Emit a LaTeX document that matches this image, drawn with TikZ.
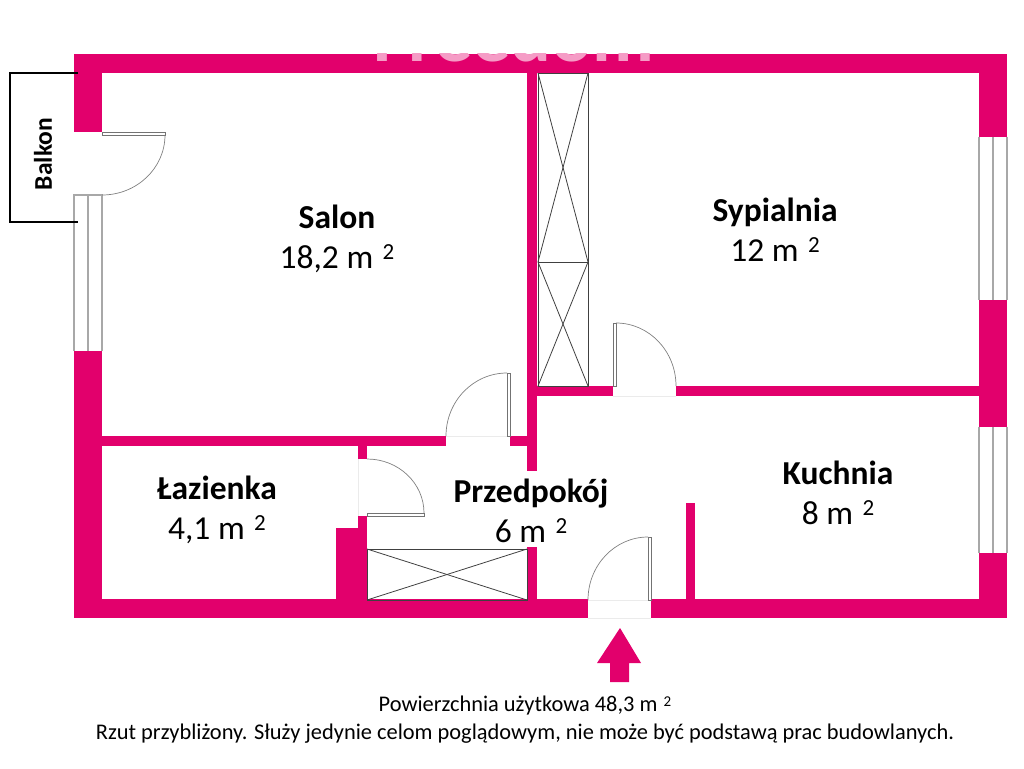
\documentclass[tikz,border=0pt]{standalone}
\usepackage{fontspec}
\setmainfont{Carlito}
\definecolor{wallpink}{HTML}{E2006C}
\definecolor{markpink}{HTML}{F59CC6}
\definecolor{framegray}{HTML}{A8A8A8}
\newcommand{\sqm}[1]{#1 m\,\raisebox{0.6ex}{\fontsize{23}{23}\selectfont\,2}}

\begin{document}
\begin{tikzpicture}
            [x=1pt,y=-1pt,
            wall/.style={fill=wallpink},
            frameline/.style={draw=framegray,line width=1.2pt},
            sill/.style={draw=black!8,line width=0.6pt},
            leaf/.style={draw=black!55,line width=0.6pt,fill=white},
            swing/.style={draw=black!50,line width=0.7pt},
            closet/.style={draw=black!75,line width=0.8pt},
            roomlabel/.style={align=center,font=\fontsize{33.5}{40}\selectfont,inner sep=0},
            note/.style={font=\fontsize{22.4}{24}\selectfont,inner sep=0}]

            \useasboundingbox (0,0) rectangle (1024,768);

            % outer walls
            \fill[wall] (74,54) rectangle (1007,73);
            \fill[wall] (74,599) rectangle (588,618);
            \fill[wall] (651,599) rectangle (1007,618);
            \fill[wall] (74,54) rectangle (102,132);
            \fill[wall] (74,351) rectangle (102,618);
            \fill[wall] (979,54) rectangle (1007,137);
            \fill[wall] (979,300) rectangle (1007,427);
            \fill[wall] (979,553) rectangle (1007,618);

            % inner walls
            \fill[wall] (527,73) rectangle (537,471);
            \fill[wall] (527,547) rectangle (537,600);
            \fill[wall] (102,436) rectangle (446,446);
            \fill[wall] (510,436) rectangle (527,446);
            \fill[wall] (537,386) rectangle (613,396);
            \fill[wall] (676,386) rectangle (979,396);
            \fill[wall] (358,446) rectangle (367,459);
            \fill[wall] (358,516) rectangle (367,528);
            \fill[wall] (336,528) rectangle (367,600);
            \fill[wall] (686,503) rectangle (695,600);

            % watermark
            \begin{scope}
              \clip (340,54) rectangle (680,62);
              \node[inner sep=0,text=markpink,font=\bfseries\fontsize{76}{76}\selectfont] (mark) at (514,35) {Freedom};
            \end{scope}

            % windows
            \draw[frameline] (74,351) -- (74,195) -- (102,195) -- (102,351);
            \draw[frameline] (88,195) -- (88,351);
            \draw[frameline] (979,137) -- (979,300);
            \draw[frameline] (993,137) -- (993,300);
            \draw[frameline] (1007,137) -- (1007,300);
            \draw[frameline] (979,427) -- (979,553);
            \draw[frameline] (993,427) -- (993,553);
            \draw[frameline] (1007,427) -- (1007,553);

            % door openings
            \draw[sill] (588,600) -- (651,600);
            \draw[sill] (588,618) -- (651,618);
            \draw[sill] (613,396) -- (676,396);
            \draw[sill] (446,436) -- (510,436);
            \draw[sill] (358,459) -- (358,516);

            % doors
            \draw[leaf] (102,132) rectangle (165,135);
            \draw[swing] (165,135) arc[start angle=0,end angle=-90,x radius=63,y radius=-60];
            \draw[leaf] (507,373) rectangle (510,436);
            \draw[swing] (507,373) arc[start angle=90,end angle=180,x radius=61,y radius=-63];
            \draw[leaf] (367,513) rectangle (424,516);
            \draw[swing] (424,513) arc[start angle=0,end angle=90,x radius=57,y radius=-54];
            \draw[leaf] (613,323) rectangle (616,386);
            \draw[swing] (616,323) arc[start angle=90,end angle=0,x radius=60,y radius=-63];
            \draw[leaf] (648,537) rectangle (651,600);
            \draw[swing] (648,537) arc[start angle=90,end angle=180,x radius=60,y radius=-63];

            % closets
            \draw[closet] (538,73) rectangle (588,386);
            \draw[closet] (538,262) -- (588,262);
            \draw[closet] (538,73) -- (588,262);
            \draw[closet] (588,73) -- (538,262);
            \draw[closet] (538,262) -- (588,386);
            \draw[closet] (588,262) -- (538,386);
            \draw[closet] (367,549) rectangle (527,600);
            \draw[closet] (367,549) -- (527,600);
            \draw[closet] (527,549) -- (367,600);

            % balcony
            \coordinate (b1) at (78,73);
            \coordinate (b2) at (10,73);
            \coordinate (b3) at (10,222);
            \coordinate (b4) at (78,222);
            \draw[line width=1.8pt] (b1) -- (b2) -- (b3) -- (b4);
            \node[inner sep=0,rotate=90,font=\bfseries\fontsize{25.5}{25.5}\selectfont] (balkon) at (43,154) {Balkon};

            % entrance
            \fill[wall] (620,628) -- (641,663) -- (629,663) -- (629,682) -- (610,682) -- (610,663) -- (597,663) -- cycle;

            % rooms
            \node[roomlabel] (salon) at (337,239) {\textbf{Salon}\\\sqm{18,2}};
            \node[roomlabel] (sypialnia) at (775,230) {\textbf{Sypialnia}\\\sqm{12}};
            \node[roomlabel] (lazienka) at (217,510) {\textbf{Łazienka}\\\sqm{4,1}};
            \node[roomlabel] (przedpokoj) at (531,511) {\textbf{Przedpokój}\\\sqm{6}};
            \node[roomlabel] (kuchnia) at (838,493) {\textbf{Kuchnia}\\\sqm{8}};

            % footer
            \node[note] (area) at (525,706) {Powierzchnia użytkowa 48,3 m\,\raisebox{0.5ex}{\fontsize{15}{15}\selectfont\,2}};
            \node[note] (hint) at (525,734) {Rzut przybliżony. Służy jedynie celom poglądowym, nie może być podstawą prac budowlanych.};
          \end{tikzpicture}
\end{document}
